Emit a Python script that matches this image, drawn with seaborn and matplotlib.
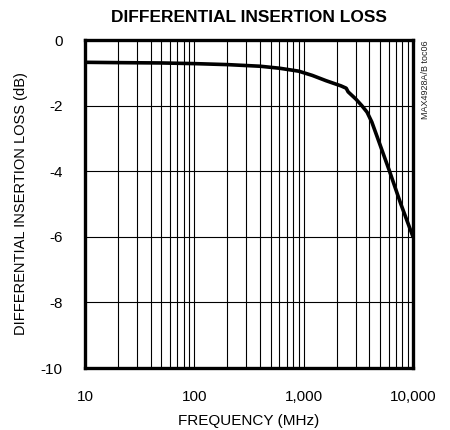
import numpy as np
import pandas as pd
import seaborn as sns
import matplotlib.pyplot as plt
from matplotlib.ticker import FixedLocator, LogLocator, NullFormatter

# curve (MHz, dB)
freq_mhz = [10, 20, 50, 100, 200, 400, 600, 900, 1200, 1600, 2200, 2450,
            2550, 3000, 3400, 3800, 4200, 4700, 6100, 7700, 10000]
loss_db = [-0.68, -0.69, -0.70, -0.72, -0.75, -0.80, -0.86, -0.95, -1.08,
           -1.24, -1.40, -1.47, -1.58, -1.80, -2.00, -2.20, -2.50, -2.95,
           -4.00, -4.98, -6.00]
x_ticks = [10, 100, 1000, 10000]
x_tick_labels = ["10", "100", "1,000", "10,000"]
y_ticks = [0, -2, -4, -6, -8, -10]

sns.set_style("white")
plt.rcParams['font.family'] = ['Liberation Sans Narrow', 'Liberation Sans', 'DejaVu Sans']
plt.rcParams['text.color'] = 'black'
plt.rcParams['axes.labelcolor'] = 'black'

df = pd.DataFrame({"freq": freq_mhz, "loss": loss_db})

fig = plt.figure(figsize=(4.5, 4.3), dpi=100)
ax = fig.add_axes([85 / 450, 1 - 368 / 430, 328 / 450, 328 / 430])

sns.lineplot(data=df, x="freq", y="loss", color="black", linewidth=2.6, ax=ax)

ax.set_xscale("log")
ax.set_xlim(10, 10000)
ax.set_ylim(-10, 0)

ax.xaxis.set_major_locator(FixedLocator(x_ticks))
ax.set_xticklabels(x_tick_labels)
ax.xaxis.set_minor_locator(LogLocator(base=10, subs=np.arange(2, 10)))
ax.xaxis.set_minor_formatter(NullFormatter())
ax.set_yticks(y_ticks)
ax.set_yticklabels([str(v) if v == 0 else "-{}".format(-v) for v in y_ticks])

ax.grid(True, which="both", axis="x", color="black", linewidth=0.8)
ax.grid(True, which="major", axis="y", color="black", linewidth=0.8)
ax.tick_params(which="both", length=0, labelsize=11, colors="black")
ax.tick_params(axis="y", pad=16)
ax.tick_params(axis="x", pad=16)

for s in ax.spines.values():
    s.set_color("black")
    s.set_linewidth(2.4)

ax.set_xlabel("FREQUENCY (MHz)", fontsize=11, labelpad=7)
ax.set_ylabel("DIFFERENTIAL INSERTION LOSS (dB)", fontsize=10.5, labelpad=9)
ax.set_title("DIFFERENTIAL INSERTION LOSS", fontsize=12.5, fontweight="bold", pad=13)

fig.text(0.945, 0.905, "MAX4928A/B toc06", rotation=90, fontsize=6.5,
         ha="center", va="top", color="#222222")

fig.savefig("out.png", dpi=100)
